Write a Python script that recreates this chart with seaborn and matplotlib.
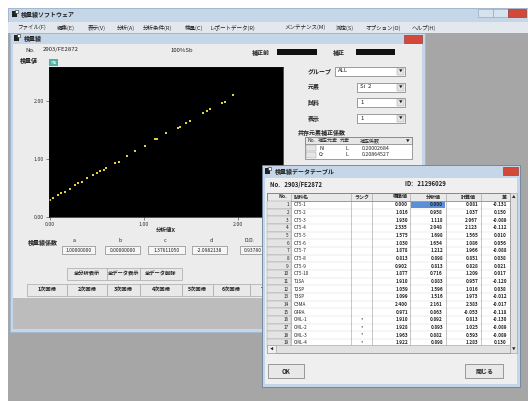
import matplotlib
matplotlib.use("Agg")
import matplotlib.pyplot as plt
import seaborn as sns
import pandas as pd
from matplotlib.patches import Rectangle

# ---------------- data ----------------
x_vals = [0.00, 0.035, 0.09, 0.12, 0.16, 0.21, 0.27, 0.30, 0.34, 0.39, 0.46, 0.50,
          0.53, 0.57, 0.60, 0.69, 0.73, 0.82, 0.90, 1.01, 1.12, 1.14, 1.24, 1.36,
          1.38, 1.45, 1.49, 1.63, 1.67, 1.70, 1.83, 1.86, 1.95]
y_vals = [0.29, 0.32, 0.38, 0.42, 0.44, 0.49, 0.55, 0.58, 0.61, 0.67, 0.72, 0.76,
          0.80, 0.82, 0.85, 0.93, 0.95, 1.05, 1.14, 1.23, 1.34, 1.34, 1.45, 1.54,
          1.55, 1.62, 1.66, 1.80, 1.83, 1.86, 1.96, 1.99, 2.10]
x_ticks = [0, 1, 2]
x_tick_labels = ["0.00", "1.00", "2.00"]
y_ticks = [0, 1, 2]
y_tick_labels = ["0.00", "1.00", "2.00"]

menu_items = ["ファイル(F)", "編集(E)", "表示(V)", "分析(A)", "分析条件(R)", "検量(C)",
              "レポートデータ(R)", "メンテナンス(M)", "測定(S)", "オプション(O)", "ヘルプ(H)"]
coef_names = ["a", "b", "c", "d", "D.D."]
coef_values = ["1.00000000", "0.00000000", "1.37611050", "-2.0982138", "0.93780"]
buttons_row1 = ["全分析表示", "全データ表示", "全データ削除"]
buttons_row2 = ["1次回帰", "2次回帰", "3次回帰", "4次回帰", "5次回帰", "6次回帰", "7次回帰"]

tbl_headers = ["No.", "試料名", "ランク", "標準値", "分析値", "計算値", "差"]
tbl_names = ["CT5-1", "CT5-2", "CT5-3", "CT5-4", "CT5-5", "CT5-6", "CT5-7", "CT5-8",
             "CT5-9", "CT5-10", "T1SA", "T2SP", "T3SP", "C3MA", "C4RA", "CML-1",
             "CML-2", "CML-3", "CML-4"]
tbl_rank = ["", "", "", "", "", "", "", "", "", "", "", "", "", "", "", "*", "*", "*", "*"]
tbl_std = ["0.000", "1.016", "1.930", "2.335", "1.575", "1.030", "1.878", "0.813",
           "0.902", "1.877", "1.910", "1.059", "1.099", "2.400", "0.971", "1.910",
           "1.928", "1.963", "1.922"]
tbl_meas = ["0.000", "0.958", "1.118", "2.048", "1.698", "1.654", "1.212", "0.898",
            "0.813", "0.716", "0.883", "1.596", "1.516", "2.161", "0.863", "0.892",
            "0.893", "0.882", "0.898"]
tbl_calc = ["0.081", "1.037", "2.067", "2.123", "1.565", "1.086", "1.966", "0.851",
            "0.828", "1.209", "0.957", "1.016", "1.973", "2.383", "-0.053", "0.813",
            "1.025", "0.593", "1.283"]
tbl_diff = ["-0.131", "0.150", "-0.089", "-0.112", "0.010", "0.056", "-0.088", "0.038",
            "0.021", "0.017", "-0.120", "0.038", "-0.012", "-0.017", "-0.118", "-0.130",
            "-0.089", "-0.089", "0.130"]

# ---------------- style ----------------
sns.set_theme(style="white")
plt.rcParams["font.family"] = ["Noto Sans CJK JP", "DejaVu Sans"]

FS = 4.3
TITLE = "#c4d6e8"
FRAME = "#9fb6cf"
DESK = "#a6a6a6"
PANEL = "#ececec"
RED = "#d4483a"

fig = plt.figure(figsize=(5.28, 4.01), dpi=100, facecolor="white")


def new_layer(z):
    a = fig.add_axes([0, 0, 1, 1], zorder=z)
    a.set_xlim(0, 528)
    a.set_ylim(401, 0)
    a.axis("off")
    a.patch.set_alpha(0)
    return a


def box(a, x, y, w, h, fc, ec="none", lw=0.5, z=1):
    a.add_patch(Rectangle((x, y), w, h, facecolor=fc, edgecolor=ec, linewidth=lw, zorder=z))


def txt(a, x, y, s, size=FS, ha="left", color="#222222", weight="normal", z=4):
    a.text(x, y, s, fontsize=size, ha=ha, va="center", color=color, weight=weight, zorder=z)


def icon(a, x, y):
    box(a, x, y, 5, 6, "#222222", z=3)
    box(a, x + 3, y - 1, 3, 3, "#ffffff", ec="#222222", lw=0.4, z=3)


bg = new_layer(0)

# desktop + application frame
box(bg, 8, 8, 520, 393, DESK)
box(bg, 8, 8, 520, 14, TITLE, ec=FRAME, lw=0.5)
icon(bg, 12, 11)
txt(bg, 21, 15, "検量線ソフトウェア", size=FS, weight="bold")
box(bg, 478, 9, 15, 8, "#d6e2ee", ec="#8aa0b8", lw=0.4)
box(bg, 493, 9, 15, 8, "#d6e2ee", ec="#8aa0b8", lw=0.4)
box(bg, 508, 9, 18, 8, RED, ec="#8a2a20", lw=0.4)
box(bg, 8, 22, 520, 11, "#e3e8ef")
menu_x = [17, 57, 88, 117, 143, 185, 210, 284, 336, 366, 412]
for mx, m in zip(menu_x, menu_items):
    txt(bg, mx, 27.5, m, size=FS - 0.3)

# main window
box(bg, 10, 33, 415, 299, TITLE, ec=FRAME, lw=0.6)
icon(bg, 14, 35)
txt(bg, 24, 38.5, "検量線", weight="bold")
box(bg, 404, 35, 18, 8, RED, ec="#8a2a20", lw=0.4)
box(bg, 13, 44, 409, 254, PANEL)
box(bg, 13, 298, 409, 31, "#bcbcbc")

# header info row
txt(bg, 25, 50, "No.")
txt(bg, 43, 50, "2903/FE2872")
txt(bg, 170, 50, "100%Sb")
txt(bg, 252, 52, "補正前", weight="bold")
box(bg, 277, 49, 40, 6, "#111111")
txt(bg, 333, 52, "補正", weight="bold")
box(bg, 356, 49, 39, 6, "#111111")
txt(bg, 20, 60, "検量値", weight="bold")
box(bg, 49, 59, 9, 7, "#4fb3a4")
txt(bg, 53.5, 62.5, "Y軸", size=2.8, ha="center", color="#ffffff")

# right-hand controls
for lbl, yy, x0, val in [("グループ", 71, 335, "ALL"), ("元素", 87, 357, "Si  2"),
                          ("試料", 102, 357, "1"), ("表示", 118, 357, "1")]:
    txt(bg, 308, yy, lbl, weight="bold")
    box(bg, x0, yy - 4.5, 405 - x0, 9, "#ffffff", ec="#777777", lw=0.5)
    txt(bg, x0 + 3, yy, val)
    box(bg, 397, yy - 3.5, 7, 7, "#e4e4e4", ec="#999999", lw=0.3)
    txt(bg, 400.5, yy, "▼", size=2.6, ha="center")
txt(bg, 298, 133, "共存元素補正係数", weight="bold")
box(bg, 305, 137, 107, 22, "#ffffff", ec="#777777", lw=0.5)
box(bg, 305, 137, 107, 7, "#e6e6e6", ec="#777777", lw=0.5)
for hx, h in [(307, "No."), (318, "補正元素"), (340, "元素"), (360, "補正係数")]:
    txt(bg, hx, 140.5, h, size=3.6)
txt(bg, 408, 140.5, "▼", size=2.6, ha="center")
for ry, el, val in [(148, "Ni", "0.20002684"), (155, "Cr", "0.20864527")]:
    box(bg, 306, ry - 3, 10, 6, "#e6e6e6", ec="#999999", lw=0.3)
    txt(bg, 319, ry, el, size=3.8)
    txt(bg, 345, ry, "L", size=3.8)
    txt(bg, 362, ry, val, size=3.8)

# coefficients row
txt(bg, 28, 243, "検量線係数", weight="bold")
coef_lx = [74, 120, 165, 211, 250]
coef_bx = [(62, 33), (105, 35), (148, 37), (192, 35), (240, 25)]
for lx, (bx, bw), n, v in zip(coef_lx, coef_bx, coef_names, coef_values):
    txt(bg, lx, 241, n, size=3.8, ha="center")
    box(bg, bx, 246, bw, 8, "#f6f6f6", ec="#888888", lw=0.5)
    txt(bg, bx + bw / 2, 250, v, size=3.6, ha="center")

# button rows
for (bx, bw), b in zip([(67, 40), (107, 33), (140, 42)], buttons_row1):
    box(bg, bx, 268, bw, 12, "#e9e9e9", ec="#a8a8a8", lw=0.5)
    txt(bg, bx + bw / 2, 274, b, size=3.8, ha="center", weight="bold")
b2 = [27, 67, 107, 140, 182, 213, 250, 290]
for i, b in enumerate(buttons_row2):
    box(bg, b2[i], 284, b2[i + 1] - b2[i], 12, "#e9e9e9", ec="#a8a8a8", lw=0.5)
    txt(bg, (b2[i] + b2[i + 1]) / 2, 290, b, size=3.8, ha="center", weight="bold")

# ---------------- scatter (seaborn) ----------------
df = pd.DataFrame({"分析値X": x_vals, "検量値Y": y_vals})
ax = fig.add_axes([49 / 528, 1 - 217 / 401, 234 / 528, 150 / 401], zorder=2)
sns.scatterplot(data=df, x="分析値X", y="検量値Y", ax=ax, color="#e2cf3a",
                s=4, linewidth=0, marker="s")
ax.set_facecolor("black")
ax.set_xlim(-0.01, 2.48)
ax.set_ylim(0, 2.59)
ax.set_xticks(x_ticks)
ax.set_xticklabels(x_tick_labels)
ax.set_yticks(y_ticks)
ax.set_yticklabels(y_tick_labels)
ax.tick_params(labelsize=3.8, colors="#333333", length=2, width=0.4, pad=1.5,
               left=True, bottom=True)
ax.set_xlabel("分析値X", fontsize=FS - 0.3, labelpad=0.8, weight="bold", color="#222222")
ax.set_ylabel("")
for s in ax.spines.values():
    s.set_color("#111111")
    s.set_linewidth(0.5)

# ---------------- data table window (overlay) ----------------
top = new_layer(5)
box(top, 262, 165, 258, 222, TITLE, ec="#6a7f99", lw=0.6)
icon(top, 265, 168)
txt(top, 275, 171.5, "検量線データテーブル", weight="bold")
box(top, 503, 167, 15, 8, RED, ec="#8a2a20", lw=0.4)
box(top, 265, 178, 252, 206, "#efefef")
txt(top, 270, 184, "No.   2903/FE2872", weight="bold")
txt(top, 405, 184, "ID:   21296029", weight="bold")

tx0, tx1, ty0, ty1 = 267, 510, 193, 353
box(top, tx0, ty0, tx1 - tx0, ty1 - ty0, "#ffffff", ec="#666666", lw=0.6)
box(top, tx0, ty0, tx1 - tx0, 8, "#e9e9e9", ec="#777777", lw=0.5, z=2)
cols = [267, 291, 351, 372, 410, 446, 481, 510]
head_x = [287, 294, 361.5, 408, 441, 476, 507]
head_ha = ["right", "left", "center", "right", "right", "right", "right"]
for hx, ha, h in zip(head_x, head_ha, tbl_headers):
    txt(top, hx, 197, h, size=3.6, ha=ha, weight="bold", z=5)
row_h = 7.65
for i in range(len(tbl_names)):
    yc = 205 + i * row_h
    if yc > 344:
        break
    box(top, tx0, yc - row_h / 2, 24, row_h, "#e4e4e4", ec="#9a9a9a", lw=0.3, z=2)
    top.plot([291, tx1], [yc + row_h / 2] * 2, color="#d8d8d8", lw=0.3, zorder=2)
    if i == 0:
        box(top, 411, yc - row_h / 2 + 0.5, 34, row_h - 1, "#5b8fd6", z=2)
    txt(top, 289, yc, str(i + 1), size=3.4, ha="right", z=5)
    txt(top, 294, yc, tbl_names[i], size=3.4, z=5)
    txt(top, 361.5, yc, tbl_rank[i], size=3.6, ha="center", z=5)
    txt(top, 408, yc, tbl_std[i], size=3.4, ha="right", weight="bold", z=5)
    txt(top, 443, yc, tbl_meas[i], size=3.4, ha="right", weight="bold", z=5)
    txt(top, 478, yc, tbl_calc[i], size=3.4, ha="right", weight="bold", z=5)
    txt(top, 507, yc, tbl_diff[i], size=3.4, ha="right", weight="bold", z=5)
for cx in cols[1:-1]:
    top.plot([cx, cx], [ty0, 345], color="#9a9a9a", lw=0.4, zorder=3)
# scrollbars
box(top, 510, ty0, 7, ty1 - ty0, "#e2e2e2", ec="#999999", lw=0.4, z=3)
txt(top, 513.5, 197, "▲", size=2.6, ha="center", z=5)
txt(top, 513.5, 349, "▼", size=2.6, ha="center", z=5)
box(top, tx0, 345, tx1 - tx0, 8, "#e2e2e2", ec="#999999", lw=0.4, z=3)
box(top, tx0, 345, 9, 8, "#f0f0f0", ec="#999999", lw=0.4, z=3)
txt(top, tx0 + 4.5, 349, "◀", size=2.6, ha="center", z=5)
# buttons
box(top, 268, 364, 36, 14, "#e8e8e8", ec="#777777", lw=0.5, z=3)
txt(top, 286, 371, "OK", size=FS, ha="center", weight="bold", z=5)
box(top, 465, 364, 38, 14, "#e8e8e8", ec="#777777", lw=0.5, z=3)
txt(top, 484, 371, "閉じる", size=FS, ha="center", weight="bold", z=5)

fig.savefig("out.png", dpi=100, facecolor="white")
